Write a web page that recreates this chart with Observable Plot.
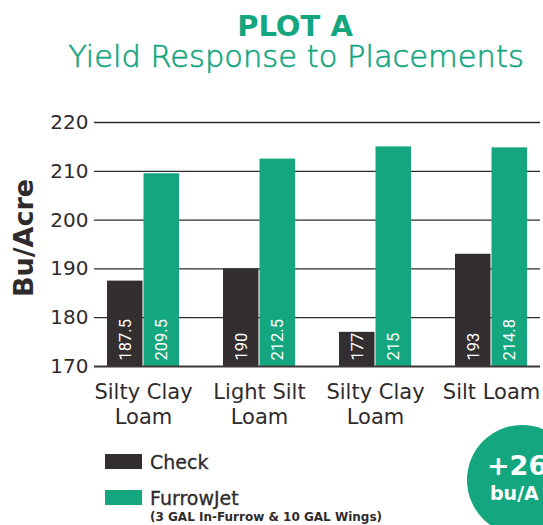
<!DOCTYPE html>
<html><head><meta charset="utf-8">
<script src="https://cdn.jsdelivr.net/npm/d3@7"></script>
<script src="https://cdn.jsdelivr.net/npm/@observablehq/plot@0.6"></script>
<style>
body{margin:0;background:#fff;}
#wrap{position:relative;width:543px;height:525px;overflow:hidden;background:#fff;font-family:"DejaVu Sans",sans-serif;}
#chart{position:absolute;left:0;top:0;}
#overlay{position:absolute;left:0;top:0;}
</style></head><body>
<div id="wrap"><div id="chart"></div><svg id="overlay" width="543" height="525"></svg></div>
<script>
// ---- data ----
const title = "PLOT A";
const subtitle = "Yield Response to Placements";
const yLabel = "Bu/Acre";
const soils = ["Silty Clay\nLoam", "Light Silt\nLoam", "Silty Clay\nLoam", "Silt Loam"];
const series = ["Check", "FurrowJet"];
const seriesNotes = ["", "(3 GAL In-Furrow & 10 GAL Wings)"];
const checkValues = [187.5, 190, 177, 193];
const furrowJetValues = [209.5, 212.5, 215, 214.8];
const yTicks = [170, 180, 190, 200, 210, 220];
const badgeUnit = "bu/A";

// ---- styles ----
const DARK = "#332e2f", GREEN = "#13a67f", INK = "#2f2b2c";
const W = 543, H = 440, mL = 94, mR = 3, mT = 122, mB = 74;
const pInner = 0.376, pOuter = 0.094;
const step = (W - mL - mR) / (soils.length - pInner + 2 * pOuter);
const bw = step * (1 - pInner);
const half = bw / 2;

const rows = soils.map((s, i) => ({site: i, check: checkValues[i], fj: furrowJetValues[i]}));

const chart = Plot.plot({
  width: W, height: H, marginTop: mT, marginBottom: mB, marginLeft: mL, marginRight: mR,
  style: {fontFamily: "DejaVu Sans, sans-serif", color: INK, background: "transparent"},
  x: {type: "band", domain: d3.range(soils.length), paddingInner: pInner, paddingOuter: pOuter},
  y: {domain: [yTicks[0], yTicks[yTicks.length - 1]]},
  marks: [
    Plot.ruleY(yTicks.slice(1), {stroke: INK, strokeWidth: 1.3}),
    Plot.barY(rows, {x: "site", y1: yTicks[0], y2: "check", fill: DARK, insetRight: half}),
    Plot.barY(rows, {x: "site", y1: yTicks[0], y2: "fj", fill: GREEN, insetLeft: half}),
    Plot.ruleY([yTicks[0]], {stroke: "#3a3738", strokeWidth: 2}),
    Plot.text(rows, {x: "site", y: () => yTicks[0], text: d => String(d.check), rotate: -90, textAnchor: "start",
      dx: -half / 2, dy: -6, fill: "white", fontSize: 16.5, fontFamily: "Roboto, sans-serif"}),
    Plot.text(rows, {x: "site", y: () => yTicks[0], text: d => String(d.fj), rotate: -90, textAnchor: "start",
      dx: half / 2, dy: -6, fill: "white", fontSize: 16.5, fontFamily: "Roboto, sans-serif"}),
    Plot.axisY({ticks: yTicks, tickSize: 0, tickPadding: 6, fontSize: 20, label: null}),
    Plot.axisX({tickFormat: i => soils[i], tickSize: 0, tickPadding: 15, fontSize: 21, lineHeight: 1.18, label: null,
      stroke: INK, strokeWidth: 0.35})
  ]
});
document.getElementById("chart").appendChild(chart);

// ---- overlay: titles, y label, legend, badge ----
const ov = d3.select("#overlay");
ov.append("text").attr("x", 295).attr("y", 36).attr("text-anchor", "middle")
  .attr("font-size", 29).attr("font-weight", 700).attr("fill", GREEN).text(title);
ov.append("text").attr("x", 296).attr("y", 67).attr("text-anchor", "middle")
  .attr("font-size", 30.5).attr("font-weight", 200).attr("fill", GREEN)
  .attr("stroke", GREEN).attr("stroke-width", 0.6).text(subtitle);
ov.append("text").attr("transform", "translate(33,238) rotate(-90)").attr("text-anchor", "middle")
  .attr("font-size", 27).attr("font-weight", 700).attr("fill", INK).text(yLabel);

const legendColors = [DARK, GREEN];
series.forEach((s, i) => {
  const y0 = 454 + i * 36;
  ov.append("rect").attr("x", 105).attr("y", y0).attr("width", 37).attr("height", 15).attr("fill", legendColors[i]);
  ov.append("text").attr("x", 150).attr("y", y0 + 15).attr("font-size", 19).attr("fill", INK)
    .attr("stroke", INK).attr("stroke-width", 0.3).text(s);
  if (seriesNotes[i]) ov.append("text").attr("x", 150).attr("y", y0 + 31).attr("font-size", 12)
    .attr("font-weight", 700).attr("fill", INK).text(seriesNotes[i]);
});

const gain = d3.mean(furrowJetValues) - d3.mean(checkValues);
ov.append("circle").attr("cx", 522).attr("cy", 480).attr("r", 55).attr("fill", GREEN);
ov.append("text").attr("x", 487).attr("y", 475).attr("font-size", 27).attr("font-weight", 700).attr("fill", "white")
  .text("+" + Math.round(gain));
ov.append("text").attr("x", 490).attr("y", 500).attr("font-size", 19).attr("font-weight", 700).attr("fill", "white")
  .text(badgeUnit);
</script>
</body></html>
